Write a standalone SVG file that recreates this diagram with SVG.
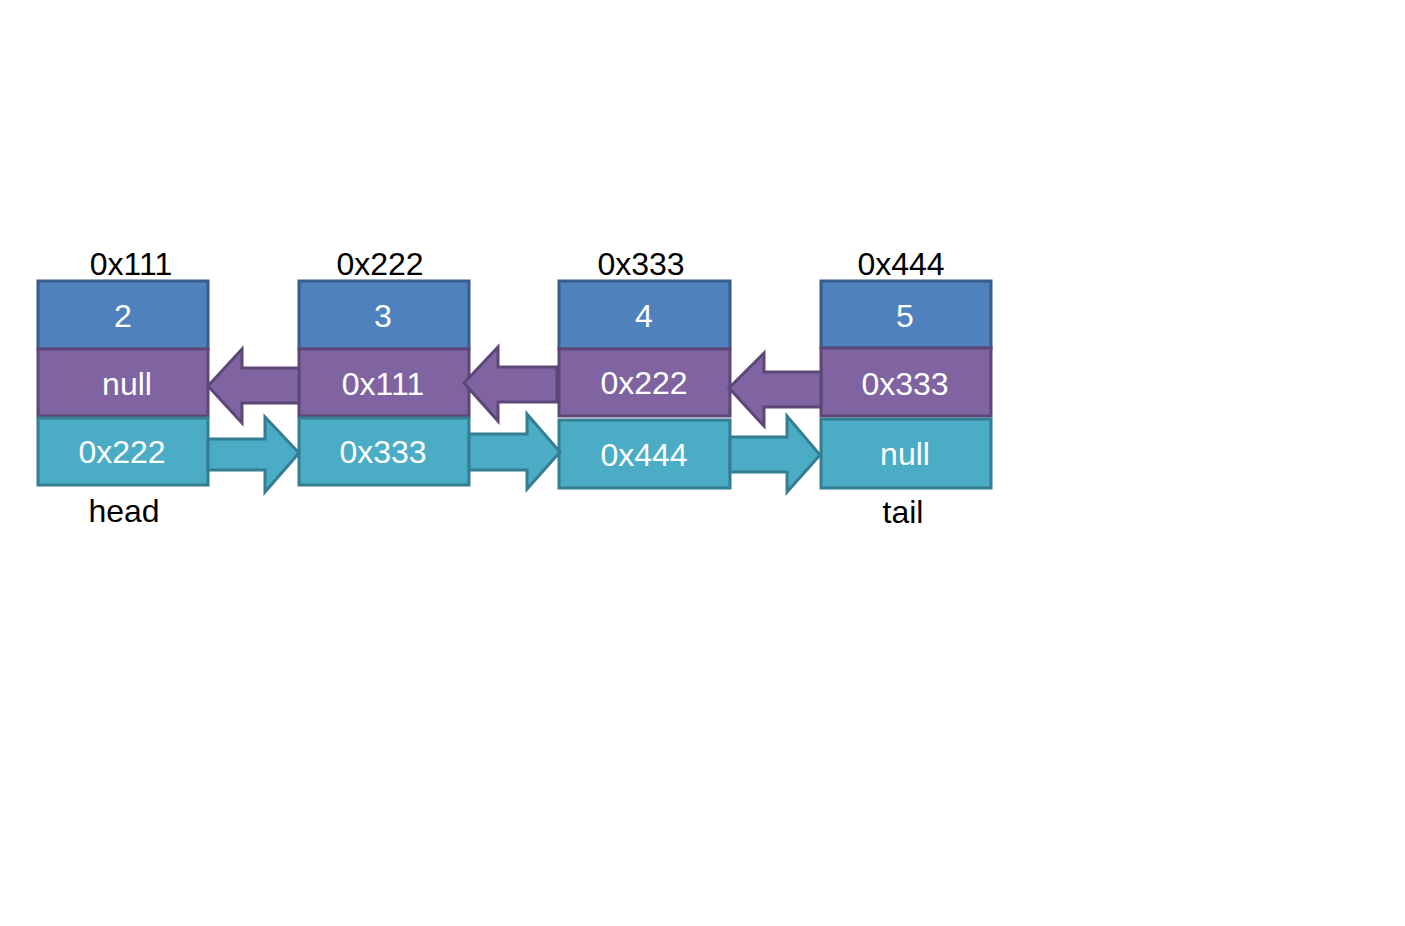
<svg xmlns="http://www.w3.org/2000/svg" width="1405" height="926" viewBox="0 0 1405 926">
<style>
text{font-family:"Liberation Sans",Arial,sans-serif;font-size:32px;text-anchor:middle}
.w{fill:#fff}
.k{fill:#000}
.b{fill:#4F81BD;stroke:#385D8A;stroke-width:3}
.p{fill:#8064A2;stroke:#5C4776;stroke-width:3;stroke-linejoin:miter}
.c{fill:#4BACC6;stroke:#357D91;stroke-width:3;stroke-linejoin:miter}
</style>
<rect width="1405" height="926" fill="#fff"/>
<g id="node1">
<rect class="b" x="38" y="281" width="170" height="68"/>
<rect class="p" x="38" y="349" width="170" height="67"/>
<rect class="c" x="38" y="418" width="170" height="67"/>
<text class="k" x="131" y="275">0x111</text>
<text class="w" x="123" y="327">2</text>
<text class="w" x="127" y="395">null</text>
<text class="w" x="122" y="463">0x222</text>
<text class="k" x="124" y="522">head</text>
</g>
<g id="node2">
<rect class="b" x="299" y="281" width="170" height="68"/>
<rect class="p" x="299" y="349" width="170" height="67"/>
<rect class="c" x="299" y="418" width="170" height="67"/>
<text class="k" x="380" y="275">0x222</text>
<text class="w" x="383" y="327">3</text>
<text class="w" x="383" y="395">0x111</text>
<text class="w" x="383" y="463">0x333</text>
</g>
<g id="node3">
<rect class="b" x="559" y="281" width="171" height="68"/>
<rect class="p" x="559" y="349" width="171" height="67"/>
<rect class="c" x="559" y="420" width="171" height="68"/>
<text class="k" x="641" y="275">0x333</text>
<text class="w" x="644" y="327">4</text>
<text class="w" x="644" y="394">0x222</text>
<text class="w" x="644" y="466">0x444</text>
</g>
<g id="node4">
<rect class="b" x="821" y="281" width="170" height="67"/>
<rect class="p" x="821" y="348" width="170" height="68"/>
<rect class="c" x="821" y="419" width="170" height="69"/>
<text class="k" x="901" y="275">0x444</text>
<text class="w" x="905" y="327">5</text>
<text class="w" x="905" y="395">0x333</text>
<text class="w" x="905" y="465">null</text>
<text class="k" x="903" y="523">tail</text>
</g>
<g id="connectors">
<polygon class="p" points="299,368 242,368 242,349 208,386 242,423 242,403 299,403"/>
<polygon class="p" points="557,367 498,367 498,347 464,383 498,421 498,402 557,402"/>
<polygon class="p" points="821,372 764,372 764,353 729,388 764,426 764,407 821,407"/>
<polygon class="c" points="208,439 265,439 265,417 299,453 265,492 265,470 208,470"/>
<polygon class="c" points="469,434 527,434 527,414 560,452 527,489 527,470 469,470"/>
<polygon class="c" points="730,437 787,437 787,416 820,455 787,492 787,472 730,472"/>
</g>
</svg>
